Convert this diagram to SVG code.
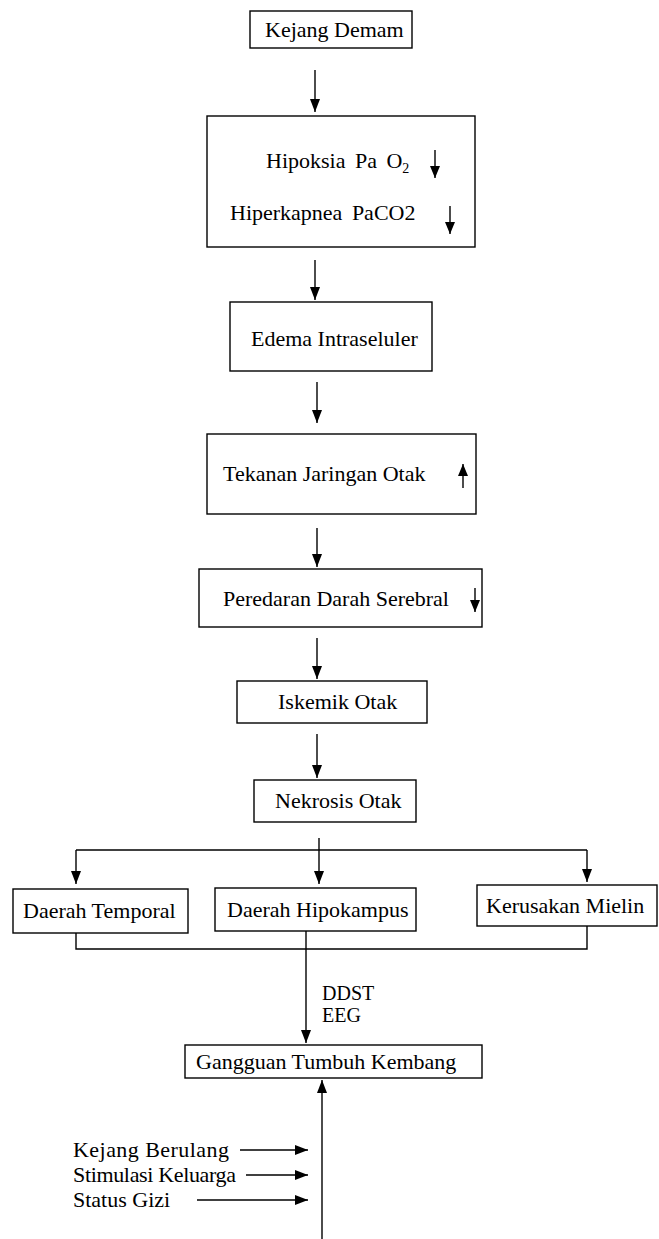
<svg xmlns="http://www.w3.org/2000/svg" width="659" height="1239" viewBox="0 0 659 1239">
<defs>
<style>
.box{fill:#fff;stroke:#000;stroke-width:1.4}
.t{font-family:"Liberation Serif","Times New Roman",serif;font-size:22px;fill:#000}
.s{font-family:"Liberation Serif","Times New Roman",serif;font-size:20px;fill:#000}
.c{fill:none;stroke:#000;stroke-width:1.4}
.a{fill:none;stroke:#000;stroke-width:1.4;marker-end:url(#ah)}
.sa{fill:none;stroke:#000;stroke-width:1.4;marker-end:url(#sh)}
</style>
<marker id="ah" markerUnits="userSpaceOnUse" markerWidth="13" markerHeight="10" refX="13" refY="5" orient="auto" viewBox="0 0 13 10"><path d="M0,0 L13,5 L0,10 Z" fill="#000"/></marker>
<marker id="sh" markerUnits="userSpaceOnUse" markerWidth="12" markerHeight="10" refX="12" refY="5" orient="auto" viewBox="0 0 12 10"><path d="M0,0 L12,5 L0,10 Z" fill="#000"/></marker>
</defs>
<rect width="659" height="1239" fill="#fff"/>
<g id="connectors">
<path class="a" d="M315,70 V112"/>
<path class="a" d="M315,260 V300"/>
<path class="a" d="M317,382 V423"/>
<path class="a" d="M317,528 V567"/>
<path class="a" d="M317,638 V679"/>
<path class="a" d="M317,734 V778"/>
<path class="c" d="M76,850 H587"/>
<path class="a" d="M76,850 V884"/>
<path class="a" d="M587,850 V882"/>
<path class="a" d="M319,838 V884"/>
<path class="c" d="M76,933 V949 H587 V926"/>
<path class="a" d="M306,931 V1043"/>
<path class="a" d="M322,1239 V1080"/>
<path class="a" d="M240,1150 H308"/>
<path class="a" d="M246,1175 H308"/>
<path class="a" d="M197,1200 H308"/>
</g>
<g id="n1"><rect class="box" x="250" y="11" width="162" height="37"/><text class="t" x="265" y="37">Kejang Demam</text></g>
<g id="n2"><rect class="box" x="207" y="116" width="268" height="131"/>
<text class="t" x="266" y="168" word-spacing="4">Hipoksia Pa O<tspan font-size="14" dy="5">2</tspan></text>
<path class="sa" d="M435,150 V178"/>
<text class="t" x="230" y="220" word-spacing="4">Hiperkapnea PaCO2</text>
<path class="sa" d="M450,206 V234"/></g>
<g id="n3"><rect class="box" x="230" y="302" width="202" height="69"/><text class="t" x="251" y="346">Edema Intraseluler</text></g>
<g id="n4"><rect class="box" x="207" y="434" width="269" height="80"/><text class="t" x="223" y="481">Tekanan Jaringan Otak</text><path class="sa" d="M463,488 V464"/></g>
<g id="n5"><rect class="box" x="199" y="569" width="283" height="58"/><text class="t" x="223" y="606">Peredaran Darah Serebral</text><path class="sa" d="M475,588 V612"/></g>
<g id="n6"><rect class="box" x="237" y="681" width="190" height="42"/><text class="t" x="278" y="709">Iskemik Otak</text></g>
<g id="n7"><rect class="box" x="254" y="780" width="162" height="42"/><text class="t" x="275" y="808">Nekrosis Otak</text></g>
<g id="n8"><rect class="box" x="13" y="889" width="175" height="44"/><text class="t" x="23" y="918">Daerah Temporal</text></g>
<g id="n9"><rect class="box" x="215" y="888" width="201" height="43"/><text class="t" x="227" y="917">Daerah Hipokampus</text></g>
<g id="n10"><rect class="box" x="477" y="885" width="180" height="41"/><text class="t" x="486" y="913">Kerusakan Mielin</text></g>
<g id="labels"><text class="s" x="322" y="1000">DDST</text><text class="s" x="322" y="1022">EEG</text></g>
<g id="n11"><rect class="box" x="185" y="1045" width="297" height="33"/><text class="t" x="196" y="1069">Gangguan Tumbuh Kembang</text></g>
<g id="factors">
<text class="t" x="73" y="1157" textLength="156">Kejang Berulang</text>
<text class="t" x="73" y="1182" textLength="163">Stimulasi Keluarga</text>
<text class="t" x="73" y="1207">Status Gizi</text>
</g>
</svg>
